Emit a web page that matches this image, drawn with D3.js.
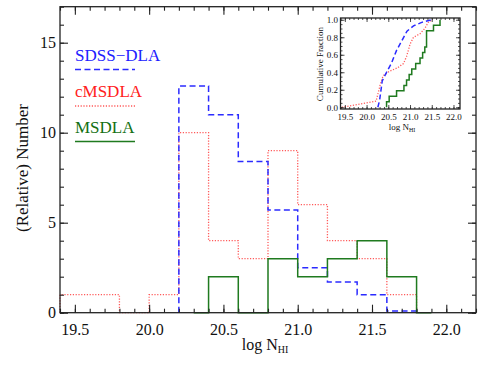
<!DOCTYPE html>
<html>
<head>
<meta charset="utf-8">
<script src="https://cdn.jsdelivr.net/npm/d3@7"></script>
<style>
  body { margin: 0; background: #fff; }
  svg { display: block; font-family: "Liberation Serif", "DejaVu Serif", serif; }
  .tick line { stroke: #222; }
  .frame { fill: none; stroke: #222; stroke-width: 1.3; }
</style>
</head>
<body>
<div id="chart"></div>
<script>
// histogram bins, left edges (width 0.2 in log N_HI)
const binLo = [19.4, 19.6, 19.8, 20.0, 20.2, 20.4, 20.6, 20.8, 21.0, 21.2, 21.4, 21.6, 21.8];
const binWidth = 0.2;
const sdssDla = [0, 0, 0, 0, 12.6, 11.0, 8.4, 5.7, 2.5, 1.7, 1.0, 0.1, 0];
const cmsdla  = [1, 1, 0, 1, 10, 4, 3, 9, 6, 4, 3, 1, 0];
const msdla   = [0, 0, 0, 0, 0, 2, 0, 3, 2, 3, 4, 2, 0];

// cumulative fractions (inset)
const cumSdssX = [20.26, 20.30, 20.36, 20.46, 20.57, 20.69, 20.80, 20.93, 21.08, 21.27, 21.50];
const cumSdssY = [0.0, 0.08, 0.30, 0.40, 0.50, 0.65, 0.75, 0.87, 0.93, 0.97, 1.0];
const cumCmsX = [19.43, 20.22, 20.31, 20.38, 20.52, 20.71, 20.85, 20.92, 21.00, 21.08, 21.23, 21.34, 21.42, 21.52];
const cumCmsY = [0.0, 0.07, 0.25, 0.36, 0.41, 0.45, 0.50, 0.58, 0.72, 0.80, 0.84, 0.90, 0.97, 1.0];
const cumMsX = [20.46, 20.52, 20.69, 20.86, 20.92, 20.98, 21.04, 21.13, 21.23, 21.29, 21.34, 21.38, 21.54, 21.69];
const cumMsY = [0.0625, 0.125, 0.1875, 0.25, 0.3125, 0.375, 0.4375, 0.5, 0.5625, 0.625, 0.6875, 0.875, 0.9375, 1.0];

const xTicks = [19.5, 20.0, 20.5, 21.0, 21.5, 22.0];
const yTicks = [0, 5, 10, 15];
const insetYTicks = [0, 0.2, 0.4, 0.6, 0.8, 1.0];

const series = [
    {name: "SDSS\u2212DLA", values: sdssDla, range: [20.2, 21.8], color: "#2b2bff", dash: "6,3.5", width: 1.5, text: "#2020ff"},
    {name: "cMSDLA", values: cmsdla, range: [19.4, 21.8], color: "#ff5a5a", dash: "1.2,1.6", width: 1.3, text: "#ff2020"},
    {name: "MSDLA", values: msdla, range: [20.3, 21.9], color: "#1f7a1f", dash: null, width: 1.5, text: "#137013"}
];

const W = 485, H = 368;
const FONT = "'Liberation Serif', 'DejaVu Serif', serif";
const svg = d3.select("#chart").append("svg")
    .attr("width", W)
    .attr("height", H);

// main scales
const x = d3.scaleLinear().domain([19.4, 22.2]).range([60, 476]);
const y = d3.scaleLinear().domain([0, 17]).range([312.7, 6.7]);

const minorX = d3.range(19.4, 22.21, 0.1).map(v => +v.toFixed(1));
const minorY = d3.range(0, 18, 1);

function drawAxes(g, xs, ys, opt) {
    const [x0, x1] = xs.range();
    const [y0, y1] = ys.range();
    // minor ticks
    g.append("g").attr("transform", `translate(0,${y0})`)
        .call(d3.axisBottom(xs).tickValues(opt.minorX).tickSizeInner(-opt.minor).tickSizeOuter(0).tickFormat(""));
    g.append("g").attr("transform", `translate(0,${y1})`)
        .call(d3.axisTop(xs).tickValues(opt.minorX).tickSizeInner(-opt.minor).tickSizeOuter(0).tickFormat(""));
    g.append("g").attr("transform", `translate(${x0},0)`)
        .call(d3.axisLeft(ys).tickValues(opt.minorY).tickSizeInner(-opt.minor).tickSizeOuter(0).tickFormat(""));
    g.append("g").attr("transform", `translate(${x1},0)`)
        .call(d3.axisRight(ys).tickValues(opt.minorY).tickSizeInner(-opt.minor).tickSizeOuter(0).tickFormat(""));
    // major ticks with labels
    g.append("g").attr("transform", `translate(0,${y0})`)
        .call(d3.axisBottom(xs).tickValues(opt.xTicks).tickSizeInner(-opt.major).tickSizeOuter(0)
            .tickPadding(opt.padX).tickFormat(d3.format(".1f")))
        .attr("font-family", FONT).attr("font-size", opt.font)
        .call(a => a.selectAll("text").attr("fill", "#111"));
    g.append("g").attr("transform", `translate(0,${y1})`)
        .call(d3.axisTop(xs).tickValues(opt.xTicks).tickSizeInner(-opt.major).tickSizeOuter(0).tickFormat(""));
    g.append("g").attr("transform", `translate(${x0},0)`)
        .call(d3.axisLeft(ys).tickValues(opt.yTicks).tickSizeInner(-opt.major).tickSizeOuter(0)
            .tickPadding(opt.padY).tickFormat(opt.yFormat))
        .attr("font-family", FONT).attr("font-size", opt.font)
        .call(a => a.selectAll("text").attr("fill", "#111"));
    g.append("g").attr("transform", `translate(${x1},0)`)
        .call(d3.axisRight(ys).tickValues(opt.yTicks).tickSizeInner(-opt.major).tickSizeOuter(0).tickFormat(""));
    g.selectAll(".domain").remove();
    g.selectAll(".tick line").attr("stroke-width", opt.tickWidth);
    g.append("rect").attr("class", "frame")
        .attr("x", x0).attr("y", y1)
        .attr("width", x1 - x0).attr("height", y0 - y1)
        .attr("stroke-width", opt.frameWidth);
}

// step points for one histogram inside [start, end]
function stepPoints(values, range) {
    const [start, end] = range;
    const pts = [[start, 0]];
    binLo.forEach((lo, i) => {
        const hi = lo + binWidth;
        if (hi > start + 1e-9 && lo < end - 1e-9) pts.push([Math.max(lo, start), values[i]]);
    });
    pts.push([end, pts[pts.length - 1][1]]);
    pts.push([end, 0]);
    return pts;
}

const main = svg.append("g");

const histLine = d3.line()
    .x(d => x(d[0]))
    .y(d => y(d[1]))
    .curve(d3.curveStepAfter);

// draw red first, then blue, then green on top
[series[1], series[0], series[2]].forEach(s => {
    main.append("path")
        .datum(stepPoints(s.values, s.range))
        .attr("fill", "none")
        .attr("stroke", s.color)
        .attr("stroke-width", s.width)
        .attr("stroke-dasharray", s.dash)
        .attr("d", histLine);
});

drawAxes(main, x, y, {
    minorX: minorX, minorY: minorY, xTicks: xTicks, yTicks: yTicks,
    major: 8, minor: 4, padX: 11, padY: 4, font: 16,
    yFormat: d3.format("d"), tickWidth: 1.1, frameWidth: 1.3
});

// axis titles
main.append("text")
    .attr("transform", "translate(28,168) rotate(-90)")
    .attr("text-anchor", "middle")
    .attr("font-size", 17)
    .attr("fill", "#111")
    .text("(Relative) Number");

const xTitle = main.append("text")
    .attr("x", 265)
    .attr("y", 350)
    .attr("text-anchor", "middle")
    .attr("font-size", 16)
    .attr("fill", "#111");
xTitle.append("tspan").text("log N");
xTitle.append("tspan").attr("font-size", 10).attr("dy", 3).text("HI");

// legend
const legendY = [60.5, 97, 132.5];
series.forEach((s, i) => {
    main.append("text")
        .attr("x", 75)
        .attr("y", legendY[i])
        .attr("font-size", 17)
        .attr("fill", s.text)
        .text(s.name);
    main.append("line")
        .attr("x1", 75).attr("x2", 135)
        .attr("y1", legendY[i] + 9).attr("y2", legendY[i] + 9)
        .attr("stroke", s.color)
        .attr("stroke-width", s.width)
        .attr("stroke-dasharray", s.dash);
});

// inset: cumulative fraction
const ix = d3.scaleLinear().domain([19.4, 22.15]).range([340.5, 460]);
const iy = d3.scaleLinear().domain([-0.02, 1.02]).range([109, 18]);
const inset = svg.append("g");

const cumLine = d3.line()
    .x(d => ix(d[0]))
    .y(d => iy(d[1]));

inset.append("path")
    .datum(d3.zip(cumCmsX, cumCmsY))
    .attr("fill", "none")
    .attr("stroke", series[1].color)
    .attr("stroke-width", 1.3)
    .attr("stroke-dasharray", "1.2,1.6")
    .attr("d", cumLine);

inset.append("path")
    .datum(d3.zip(cumSdssX, cumSdssY))
    .attr("fill", "none")
    .attr("stroke", series[0].color)
    .attr("stroke-width", 1.5)
    .attr("stroke-dasharray", "5,3")
    .attr("d", cumLine);

inset.append("path")
    .datum([[cumMsX[0], 0]].concat(d3.zip(cumMsX, cumMsY)))
    .attr("fill", "none")
    .attr("stroke", series[2].color)
    .attr("stroke-width", 1.5)
    .attr("d", cumLine.curve(d3.curveStepAfter));

drawAxes(inset, ix, iy, {
    minorX: minorX.filter(v => v <= 22.15),
    minorY: d3.range(0, 1.01, 0.05).map(v => +v.toFixed(2)),
    xTicks: xTicks, yTicks: insetYTicks,
    major: 4, minor: 2, padX: 5, padY: 2.5, font: 9,
    yFormat: d3.format(".1f"), tickWidth: 0.8, frameWidth: 1.2
});

inset.append("text")
    .attr("transform", "translate(323,64) rotate(-90)")
    .attr("text-anchor", "middle")
    .attr("font-size", 9)
    .attr("fill", "#111")
    .text("Cumulative Fraction");

const ixTitle = inset.append("text")
    .attr("x", 402)
    .attr("y", 130)
    .attr("text-anchor", "middle")
    .attr("font-size", 9)
    .attr("fill", "#111");
ixTitle.append("tspan").text("log N");
ixTitle.append("tspan").attr("font-size", 6).attr("dy", 1.8).text("HI");
</script>
</body>
</html>
